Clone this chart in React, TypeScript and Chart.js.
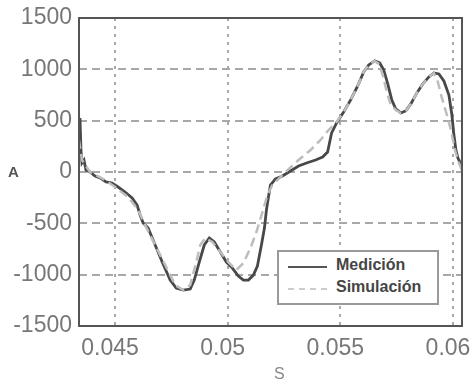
import React, { useEffect, useRef } from "react";
import { Chart, registerables } from "chart.js";

Chart.register(...registerables);

const timeMedicion = [
  0.043398, 0.043443, 0.043487, 0.043532, 0.043621, 0.04371, 0.043888, 0.04411, 0.044333, 0.0446,
  0.044867, 0.045134, 0.045445, 0.045757, 0.045979, 0.046113, 0.046246, 0.046469, 0.04678, 0.047092,
  0.047448, 0.047715, 0.048026, 0.048338, 0.048516, 0.048738, 0.048961, 0.049183, 0.049406, 0.049673,
  0.04994, 0.050207, 0.050474, 0.050696, 0.050919, 0.051141, 0.051319, 0.051497, 0.051631, 0.05172,
  0.051809, 0.051898, 0.05212, 0.052432, 0.052788, 0.053144, 0.0535, 0.0539, 0.054212, 0.054434,
  0.054612, 0.054835, 0.055146, 0.055458, 0.055769, 0.056036, 0.056259, 0.056526, 0.056748, 0.056926,
  0.057104, 0.057282, 0.05746, 0.057683, 0.057905, 0.058128, 0.058395, 0.058662, 0.058929, 0.059151,
  0.059374, 0.059596, 0.059819, 0.059952, 0.060041, 0.06013, 0.060219, 0.060308, 0.060397,
];
const medicion = [
  214, 526, 214, 88, 117, 20, 0, -39, -58, -97,
  -107, -146, -195, -253, -322, -419, -497, -546, -711, -877,
  -1053, -1131, -1150, -1140, -1053, -877, -711, -643, -682, -780,
  -877, -936, -1014, -1053, -1053, -1004, -916, -711, -546, -370,
  -244, -127, -68, -39, 10, 58, 88, 117, 146, 195,
  380, 478, 585, 702, 838, 975, 1043, 1082, 1062, 994,
  858, 702, 614, 575, 595, 663, 770, 858, 926, 965,
  955, 887, 750, 555, 360, 214, 136, 97, 39,
];

const timeSimulacion = [
  0.043398, 0.043532, 0.043888, 0.044555, 0.045, 0.045579, 0.046024, 0.046335, 0.04678, 0.047225,
  0.04767, 0.048026, 0.048338, 0.048605, 0.048783, 0.049005, 0.049317, 0.049673, 0.050029, 0.050385,
  0.050696, 0.051008, 0.051275, 0.051542, 0.051764, 0.051987, 0.052565, 0.053144, 0.05368, 0.054122,
  0.054478, 0.054835, 0.055146, 0.055458, 0.055769, 0.056036, 0.056259, 0.056526, 0.056704, 0.056882,
  0.05706, 0.057238, 0.05746, 0.057683, 0.057905, 0.058128, 0.058395, 0.058662, 0.058929, 0.059151,
  0.059329, 0.059507, 0.05973, 0.059908, 0.060086, 0.060263, 0.060397,
];
const simulacion = [
  312, 117, 0, -78, -146, -244, -370, -517, -711, -906,
  -1101, -1150, -1101, -877, -711, -643, -682, -780, -877, -955,
  -887, -741, -585, -390, -224, -127, 0, 117, 214, 312,
  409, 487, 585, 702, 838, 975, 1043, 1082, 1053, 945,
  780, 653, 604, 575, 595, 663, 770, 858, 926, 965,
  877, 721, 555, 409, 214, 88, 20,
];

const yTicks = [-1500, -1000, -500, 0, 500, 1000, 1500];
const xTicks = [0.045, 0.05, 0.055, 0.06];
const xTickLabels = ["0.045", "0.05", "0.055", "0.06"];

const frame = {
  id: "frame",
  afterDraw(chart: any) {
    const { ctx, chartArea } = chart;
    ctx.save();
    ctx.strokeStyle = "#555";
    ctx.lineWidth = 2;
    ctx.strokeRect(chartArea.left, chartArea.top, chartArea.right - chartArea.left, chartArea.bottom - chartArea.top);
    ctx.restore();
  },
};

export default function App() {
  const ref = useRef<HTMLCanvasElement | null>(null);
  useEffect(() => {
    document.body.style.margin = "0";
    const tickFont = { family: "Arial, 'Liberation Sans', sans-serif", size: 23 };
    const chart = new Chart(ref.current!, {
      type: "line",
      data: {
        datasets: [
          {
            label: "Simulación",
            data: timeSimulacion.map((t, i) => ({ x: t, y: simulacion[i] })),
            borderColor: "#bdbdbd",
            borderWidth: 2.5,
            borderDash: [9, 5],
            pointRadius: 0,
            tension: 0,
          },
          {
            label: "Medición",
            data: timeMedicion.map((t, i) => ({ x: t, y: medicion[i] })),
            borderColor: "#484848",
            borderWidth: 2.8,
            pointRadius: 0,
            tension: 0,
          },
        ],
      },
      options: {
        animation: false,
        responsive: false,
        maintainAspectRatio: false,
        layout: { padding: { left: 0, right: 11, top: 18, bottom: 0 } },
        plugins: { legend: { display: false }, tooltip: { enabled: false } },
        scales: {
          x: {
            type: "linear",
            min: 0.0434,
            max: 0.0604,
            afterBuildTicks: (s: any) => {
              s.ticks = xTicks.map((v) => ({ value: v }));
            },
            afterFit: (s: any) => {
              s.height = 58;
              s.paddingLeft = 0;
              s.paddingRight = 0;
            },
            grid: { color: "#a8a8a8", lineWidth: 2, drawTicks: false },
            border: { display: false, dash: [3, 5] },
            ticks: {
              padding: 9,
              labelOffset: -5,
              color: "#777",
              font: tickFont,
              maxRotation: 0,
              callback: (v: any) => {
                const i = xTicks.findIndex((t) => Math.abs(t - v) < 1e-9);
                return i >= 0 ? xTickLabels[i] : "";
              },
            },
          },
          y: {
            min: -1500,
            max: 1500,
            afterBuildTicks: (s: any) => {
              s.ticks = yTicks.map((v) => ({ value: v }));
            },
            afterFit: (s: any) => {
              s.width = 79;
              s.paddingTop = 0;
              s.paddingBottom = 0;
            },
            grid: { color: "#a8a8a8", lineWidth: 2, drawTicks: false },
            border: { display: false, dash: [8, 5] },
            ticks: { padding: 7, color: "#777", font: tickFont, callback: (v: any) => String(v) },
          },
        },
      },
      plugins: [frame],
    } as any);
    return () => chart.destroy();
  }, []);

  const legendFont = { fontSize: 16, fontWeight: 600, color: "#454545", fontFamily: "Arial, sans-serif" } as const;

  return (
    <div style={{ position: "relative", width: 473, height: 384, background: "#fff", fontFamily: "Arial, sans-serif" }}>
      <canvas ref={ref} width={473} height={384} style={{ width: 473, height: 384, display: "block" }} />
      <div style={{ position: "absolute", left: 8, top: 163, fontSize: 15, fontWeight: 600, color: "#555" }}>A</div>
      <div style={{ position: "absolute", left: 274, top: 365, fontSize: 16, color: "#888" }}>S</div>
      <div
        style={{
          position: "absolute",
          left: 277,
          top: 250,
          width: 162,
          height: 55,
          border: "2px solid #999",
          background: "#fff",
          boxSizing: "border-box",
        }}
      >
        <div style={{ position: "absolute", left: 9, top: 14, width: 39, height: 0, borderTop: "2px solid #555" }} />
        <div style={{ position: "absolute", left: 9, top: 36, width: 39, height: 0, borderTop: "2px dashed #ccc" }} />
        <div style={{ position: "absolute", left: 57, top: 4, ...legendFont }}>Medición</div>
        <div style={{ position: "absolute", left: 57, top: 26, ...legendFont }}>Simulación</div>
      </div>
    </div>
  );
}
